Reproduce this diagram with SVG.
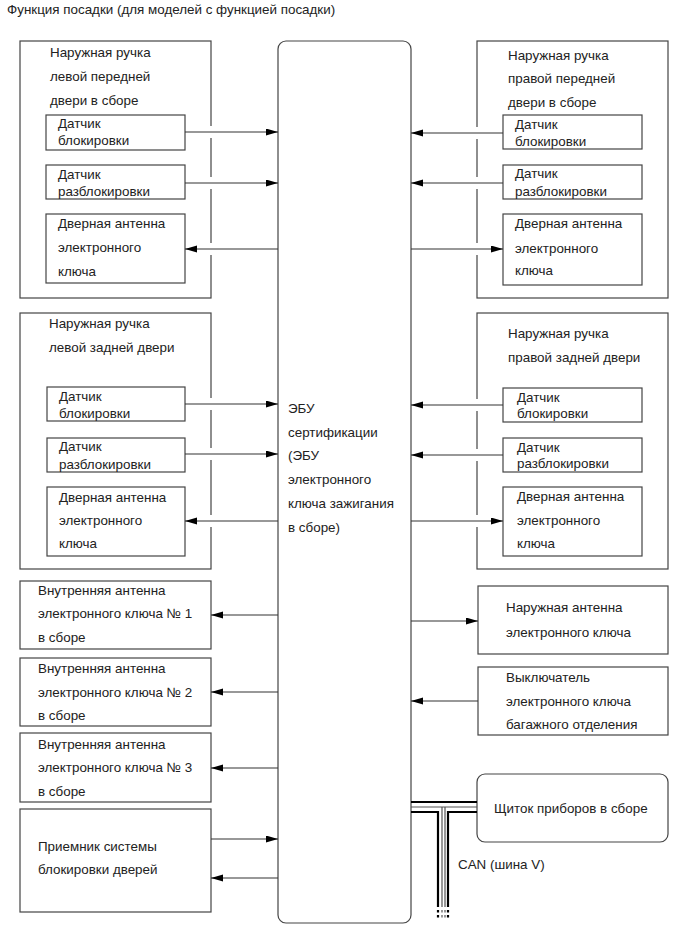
<svg xmlns="http://www.w3.org/2000/svg" width="689" height="950" viewBox="0 0 689 950">
<defs>
<style>
text{font-family:"Liberation Sans",Arial,sans-serif;font-size:13.4px;fill:#222}
.b{fill:#fff;stroke:#444;stroke-width:1.2}
.c{stroke:#333;stroke-width:1.1;fill:none}
.g{fill:#fff;stroke:none}
.k{stroke:#000;stroke-width:2.2;fill:none}
.t{stroke:#555;stroke-width:1.2;fill:none}
</style>
<marker id="ah" markerWidth="12" markerHeight="8" refX="12" refY="3.5" orient="auto" markerUnits="userSpaceOnUse">
<path d="M0,0 L12,3.5 L0,7 z" fill="#000"/>
</marker>
</defs>
<rect width="689" height="950" fill="#fff"/>
<text x="7" y="14">Функция посадки (для моделей с функцией посадки)</text>

<g id="ecu">
<rect class="b" x="278" y="41" width="133" height="882" rx="8"/>
<text x="288" y="413">ЭБУ</text>
<text x="288" y="437">сертификации</text>
<text x="288" y="460">(ЭБУ</text>
<text x="288" y="484">электронного</text>
<text x="288" y="508">ключа зажигания</text>
<text x="288" y="532">в сборе)</text>
</g>

<g id="lf-handle">
<rect class="b" x="20" y="41" width="191" height="257"/>
<text x="50" y="57">Наружная ручка</text>
<text x="50" y="81">левой передней</text>
<text x="50" y="105">двери в сборе</text>
</g>
<g id="lf-lock"><rect class="b" x="46" y="115" width="139" height="35"/><text x="58" y="128">Датчик</text><text x="58" y="145">блокировки</text></g>
<g id="lf-unlock"><rect class="b" x="46" y="165" width="139" height="34"/><text x="58" y="179">Датчик</text><text x="58" y="196">разблокировки</text></g>
<g id="lf-ant"><rect class="b" x="46" y="214" width="139" height="69"/><text x="58" y="228">Дверная антенна</text><text x="58" y="252">электронного</text><text x="58" y="276">ключа</text></g>

<g id="rf-handle">
<rect class="b" x="477" y="41" width="191" height="257"/>
<text x="508" y="60">Наружная ручка</text>
<text x="508" y="83">правой передней</text>
<text x="508" y="107">двери в сборе</text>
</g>
<g id="rf-lock"><rect class="b" x="503" y="115" width="139" height="34"/><text x="515" y="129">Датчик</text><text x="515" y="146">блокировки</text></g>
<g id="rf-unlock"><rect class="b" x="503" y="165" width="139" height="34"/><text x="515" y="178">Датчик</text><text x="515" y="196">разблокировки</text></g>
<g id="rf-ant"><rect class="b" x="503" y="214" width="139" height="71"/><text x="515" y="228">Дверная антенна</text><text x="515" y="253">электронного</text><text x="515" y="275">ключа</text></g>

<g id="lr-handle">
<rect class="b" x="20" y="313" width="191" height="256"/>
<text x="49" y="328">Наружная ручка</text>
<text x="49" y="352">левой задней двери</text>
</g>
<g id="lr-lock"><rect class="b" x="47" y="387" width="138" height="34"/><text x="59" y="401">Датчик</text><text x="59" y="418">блокировки</text></g>
<g id="lr-unlock"><rect class="b" x="47" y="438" width="138" height="34"/><text x="59" y="451">Датчик</text><text x="59" y="469">разблокировки</text></g>
<g id="lr-ant"><rect class="b" x="47" y="487" width="138" height="69"/><text x="59" y="502">Дверная антенна</text><text x="59" y="525">электронного</text><text x="59" y="548">ключа</text></g>

<g id="rr-handle">
<rect class="b" x="477" y="313" width="191" height="256"/>
<text x="508" y="338">Наружная ручка</text>
<text x="508" y="362">правой задней двери</text>
</g>
<g id="rr-lock"><rect class="b" x="503" y="388" width="139" height="34"/><text x="517" y="402">Датчик</text><text x="517" y="418">блокировки</text></g>
<g id="rr-unlock"><rect class="b" x="503" y="438" width="139" height="34"/><text x="517" y="452">Датчик</text><text x="517" y="468">разблокировки</text></g>
<g id="rr-ant"><rect class="b" x="503" y="487" width="139" height="69"/><text x="517" y="501">Дверная антенна</text><text x="517" y="525">электронного</text><text x="517" y="548">ключа</text></g>

<g id="in-ant1"><rect class="b" x="20" y="581" width="191" height="68"/><text x="38" y="595">Внутренняя антенна</text><text x="38" y="618">электронного ключа № 1</text><text x="38" y="642">в сборе</text></g>
<g id="in-ant2"><rect class="b" x="20" y="658" width="191" height="68"/><text x="38" y="673">Внутренняя антенна</text><text x="38" y="697">электронного ключа № 2</text><text x="38" y="720">в сборе</text></g>
<g id="in-ant3"><rect class="b" x="20" y="733" width="191" height="69"/><text x="38" y="749">Внутренняя антенна</text><text x="38" y="772">электронного ключа № 3</text><text x="38" y="796">в сборе</text></g>
<g id="receiver"><rect class="b" x="20" y="809" width="191" height="103"/><text x="38" y="851">Приемник системы</text><text x="38" y="874">блокировки дверей</text></g>

<g id="out-ant"><rect class="b" x="478" y="586" width="190" height="68"/><text x="506" y="612">Наружная антенна</text><text x="506" y="637">электронного ключа</text></g>
<g id="trunk-sw"><rect class="b" x="478" y="667" width="190" height="68"/><text x="506" y="682">Выключатель</text><text x="506" y="706">электронного ключа</text><text x="506" y="729">багажного отделения</text></g>
<g id="meter"><rect class="b" x="477" y="774" width="191" height="68" rx="8"/><text x="494" y="813">Щиток приборов в сборе</text></g>

<g id="connectors">
<g class="g">
<rect x="209" y="126" width="4" height="12"/><rect x="209" y="177" width="4" height="12"/><rect x="209" y="243" width="4" height="12"/>
<rect x="209" y="398" width="4" height="12"/><rect x="209" y="448" width="4" height="12"/><rect x="209" y="515" width="4" height="12"/>
<rect x="475" y="127" width="4" height="12"/><rect x="475" y="177" width="4" height="12"/><rect x="475" y="243" width="4" height="12"/>
<rect x="475" y="399" width="4" height="12"/><rect x="475" y="449" width="4" height="12"/><rect x="475" y="515" width="4" height="12"/>
</g>
<g class="c" marker-end="url(#ah)">
<path d="M185,132 H278"/>
<path d="M185,183 H278"/>
<path d="M278,249 H185"/>
<path d="M503,133 H411"/>
<path d="M503,183 H411"/>
<path d="M411,249 H503"/>
<path d="M185,404 H278"/>
<path d="M185,454 H278"/>
<path d="M278,521 H185"/>
<path d="M503,405 H411"/>
<path d="M503,455 H411"/>
<path d="M411,521 H503"/>
<path d="M278,615 H211"/>
<path d="M278,692 H211"/>
<path d="M278,768 H211"/>
<path d="M211,839 H278"/>
<path d="M278,878 H211"/>
<path d="M411,621 H478"/>
<path d="M478,701 H411"/>
</g>
<g id="can">
<path class="k" d="M411,802 H477"/>
<path class="k" d="M411,812 H438 V907"/>
<path class="k" d="M477,812 H448 V907"/>
<path class="t" d="M411,807 H477"/>
<path class="t" d="M442,807 V907"/>
<path class="t" d="M445,807 V907"/>
<g stroke-dasharray="2.5 2.5">
<path class="k" d="M438,910 V920"/>
<path class="k" d="M448,910 V920"/>
<path class="t" d="M442,910 V920"/>
<path class="t" d="M445,910 V920"/>
</g>
</g>
<text x="458" y="869">CAN (шина V)</text>
</g>
</svg>
